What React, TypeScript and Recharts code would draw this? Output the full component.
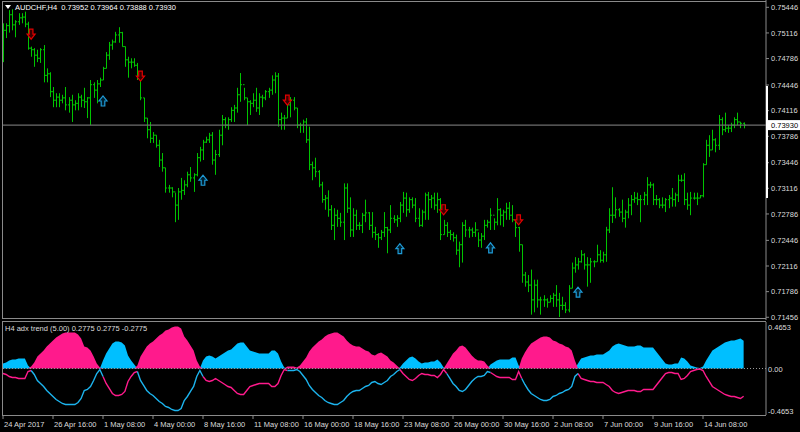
import React from "react";
import { ComposedChart, Bar, Scatter, Area, Line, XAxis, YAxis, ReferenceLine } from "recharts";

// AUDCHF H4 bars, 24 Apr 2017 00:00 onwards
const highs = [
  0.7524, 0.7524, 0.7541, 0.7542, 0.7528, 0.7537, 0.7537, 0.7539, 0.7526, 0.7494,
  0.7492, 0.749, 0.7492, 0.7496, 0.7466, 0.7461, 0.7442, 0.7434, 0.7434, 0.7432,
  0.7442, 0.7429, 0.7432, 0.7425, 0.7434, 0.7432, 0.7441, 0.7429, 0.7451, 0.7448,
  0.7451, 0.7454, 0.7468, 0.7487, 0.75, 0.7503, 0.7513, 0.7519, 0.7513, 0.7494,
  0.7481, 0.7479, 0.7479, 0.7473, 0.7454, 0.7428, 0.7402, 0.7397, 0.7384, 0.738,
  0.7374, 0.7357, 0.7338, 0.7316, 0.7313, 0.7306, 0.7312, 0.7325, 0.7322, 0.7333,
  0.7339, 0.7331, 0.7357, 0.7365, 0.7374, 0.7378, 0.7383, 0.7384, 0.7361, 0.7387,
  0.7406, 0.7403, 0.7403, 0.7416, 0.7419, 0.7441, 0.746, 0.7441, 0.7428, 0.7425,
  0.7434, 0.7441, 0.7434, 0.7432, 0.7438, 0.7441, 0.7457, 0.7461, 0.746, 0.7409,
  0.7406, 0.7425, 0.7429, 0.7429, 0.7415, 0.7396, 0.74, 0.7402, 0.7391, 0.7346,
  0.7351, 0.7335, 0.732, 0.7303, 0.7309, 0.729, 0.7286, 0.7284, 0.728, 0.7318,
  0.7318, 0.73, 0.7286, 0.7284, 0.7268, 0.728, 0.7297, 0.7281, 0.7281, 0.7262,
  0.7254, 0.7258, 0.7281, 0.7262, 0.729, 0.7277, 0.7277, 0.7294, 0.7307, 0.7306,
  0.73, 0.73, 0.7299, 0.7286, 0.7284, 0.7306, 0.7307, 0.7303, 0.7306, 0.7306,
  0.7299, 0.7271, 0.7268, 0.7258, 0.7255, 0.7252, 0.7243, 0.7268, 0.7271, 0.7262,
  0.7261, 0.7268, 0.7255, 0.7254, 0.7271, 0.7271, 0.7286, 0.7273, 0.7299, 0.7286,
  0.7284, 0.7293, 0.7294, 0.729, 0.7271, 0.7262, 0.7239, 0.7204, 0.72, 0.7207,
  0.7194, 0.7194, 0.7172, 0.7174, 0.717, 0.7174, 0.7177, 0.7187, 0.7177, 0.7172,
  0.7165, 0.7187, 0.7216, 0.7223, 0.7222, 0.7232, 0.7228, 0.7223, 0.7222, 0.7219,
  0.7239, 0.7232, 0.723, 0.7262, 0.7286, 0.7313, 0.73, 0.7286, 0.7297, 0.7284,
  0.7299, 0.7303, 0.7307, 0.7306, 0.7303, 0.7307, 0.7326, 0.732, 0.7318, 0.7303,
  0.7299, 0.73, 0.7299, 0.7303, 0.7312, 0.7306, 0.7329, 0.7329, 0.7331, 0.7306,
  0.7307, 0.7306, 0.7306, 0.7303, 0.7344, 0.7374, 0.738, 0.7387, 0.7376, 0.7406,
  0.7403, 0.7409, 0.7393, 0.7396, 0.7403, 0.7409, 0.7397, 0.73964,
];
const lows = [
  0.7474, 0.7505, 0.7512, 0.7515, 0.7506, 0.7522, 0.7524, 0.7519, 0.749, 0.7481,
  0.7468, 0.7474, 0.7473, 0.7448, 0.7448, 0.7429, 0.7416, 0.7416, 0.7416, 0.7421,
  0.7412, 0.7409, 0.7397, 0.7412, 0.7412, 0.7416, 0.7415, 0.7402, 0.7393, 0.7428,
  0.7421, 0.7442, 0.7451, 0.7466, 0.7477, 0.749, 0.7499, 0.7499, 0.7494, 0.7468,
  0.7454, 0.7466, 0.7468, 0.7451, 0.7425, 0.7397, 0.7376, 0.737, 0.737, 0.7364,
  0.7339, 0.7333, 0.7306, 0.7306, 0.73, 0.7268, 0.7271, 0.7297, 0.7303, 0.7313,
  0.732, 0.7307, 0.7327, 0.7346, 0.7348, 0.737, 0.737, 0.7342, 0.7329, 0.7352,
  0.7367, 0.7389, 0.7387, 0.7397, 0.7397, 0.7409, 0.7423, 0.7425, 0.7393, 0.7406,
  0.7416, 0.741, 0.7406, 0.7416, 0.7425, 0.7428, 0.7432, 0.7434, 0.7391, 0.7387,
  0.7387, 0.7402, 0.7403, 0.7412, 0.7389, 0.7383, 0.7383, 0.737, 0.7335, 0.7322,
  0.7326, 0.7313, 0.7293, 0.7284, 0.7275, 0.7258, 0.7245, 0.7262, 0.7262, 0.7245,
  0.728, 0.7249, 0.7249, 0.7258, 0.7258, 0.7254, 0.7268, 0.7258, 0.7248, 0.7245,
  0.7235, 0.7245, 0.7249, 0.7228, 0.7254, 0.7267, 0.7262, 0.7268, 0.728, 0.7275,
  0.728, 0.7286, 0.7268, 0.7262, 0.7262, 0.7271, 0.7271, 0.7286, 0.7284, 0.728,
  0.7245, 0.7252, 0.7249, 0.7245, 0.7243, 0.7226, 0.721, 0.7216, 0.7249, 0.7248,
  0.7249, 0.7249, 0.7236, 0.7235, 0.7245, 0.7261, 0.7258, 0.7258, 0.7264, 0.7264,
  0.7262, 0.7271, 0.7271, 0.7268, 0.7249, 0.723, 0.719, 0.7185, 0.7178, 0.7149,
  0.7152, 0.7158, 0.7149, 0.7159, 0.7158, 0.7165, 0.7159, 0.7159, 0.7146, 0.7155,
  0.7151, 0.7152, 0.7183, 0.7203, 0.7207, 0.7216, 0.7207, 0.7185, 0.719, 0.721,
  0.7217, 0.7216, 0.7216, 0.7217, 0.7254, 0.7267, 0.7273, 0.7275, 0.7268, 0.7261,
  0.7273, 0.7277, 0.7293, 0.729, 0.7268, 0.729, 0.729, 0.7312, 0.729, 0.729,
  0.7286, 0.7286, 0.7281, 0.7286, 0.7288, 0.7288, 0.7294, 0.732, 0.729, 0.7284,
  0.7277, 0.7297, 0.729, 0.7299, 0.73, 0.7342, 0.7352, 0.7361, 0.7358, 0.7361,
  0.738, 0.7384, 0.7383, 0.7384, 0.7389, 0.7393, 0.7389, 0.73888,
];
const closes = [
  0.7515, 0.7521, 0.7535, 0.7522, 0.7526, 0.7531, 0.7532, 0.7523, 0.7492, 0.749,
  0.7483, 0.7479, 0.749, 0.7457, 0.7459, 0.7436, 0.7425, 0.7429, 0.7425, 0.7428,
  0.7419, 0.7425, 0.7419, 0.7421, 0.7429, 0.7425, 0.7423, 0.7428, 0.7445, 0.7438,
  0.7446, 0.7451, 0.7466, 0.7483, 0.7496, 0.75, 0.7509, 0.7512, 0.7494, 0.7477,
  0.7474, 0.7474, 0.747, 0.7454, 0.7428, 0.7402, 0.7387, 0.7376, 0.738, 0.7367,
  0.7348, 0.7338, 0.7312, 0.7312, 0.7307, 0.729, 0.7307, 0.7309, 0.7316, 0.7329,
  0.7325, 0.7329, 0.7351, 0.7361, 0.7371, 0.7374, 0.738, 0.7348, 0.7355, 0.738,
  0.74, 0.7393, 0.74, 0.7412, 0.7415, 0.7432, 0.7445, 0.7428, 0.7423, 0.7421,
  0.7425, 0.7415, 0.7429, 0.7428, 0.7436, 0.7438, 0.7451, 0.7456, 0.74, 0.7402,
  0.7402, 0.7419, 0.7425, 0.7415, 0.7393, 0.7393, 0.7397, 0.7374, 0.7342, 0.7338,
  0.7333, 0.7316, 0.7297, 0.7299, 0.7284, 0.7264, 0.7277, 0.7273, 0.7268, 0.7312,
  0.7286, 0.7258, 0.7277, 0.7264, 0.7264, 0.7277, 0.728, 0.7264, 0.7255, 0.7252,
  0.7248, 0.7255, 0.7261, 0.7258, 0.7273, 0.7271, 0.7273, 0.729, 0.7299, 0.7284,
  0.7297, 0.729, 0.7273, 0.7264, 0.7281, 0.7303, 0.7297, 0.7299, 0.729, 0.7297,
  0.7252, 0.7264, 0.7255, 0.7252, 0.7248, 0.7232, 0.7239, 0.7264, 0.7258, 0.7258,
  0.7255, 0.7258, 0.7245, 0.725, 0.7264, 0.7268, 0.7277, 0.7268, 0.7284, 0.7277,
  0.7281, 0.7286, 0.7277, 0.7271, 0.7261, 0.7239, 0.72, 0.7191, 0.7187, 0.7168,
  0.7187, 0.7168, 0.7168, 0.7168, 0.7165, 0.717, 0.7174, 0.7168, 0.7161, 0.7161,
  0.7155, 0.7183, 0.7209, 0.7213, 0.7217, 0.7226, 0.7213, 0.7213, 0.7217, 0.7217,
  0.7226, 0.7219, 0.7226, 0.7258, 0.7277, 0.7277, 0.7284, 0.7281, 0.7273, 0.7281,
  0.729, 0.7297, 0.7299, 0.7297, 0.7297, 0.7303, 0.7316, 0.7316, 0.7297, 0.7297,
  0.729, 0.729, 0.7297, 0.7299, 0.7297, 0.7303, 0.7322, 0.7322, 0.7297, 0.729,
  0.7299, 0.7299, 0.7299, 0.7302, 0.7342, 0.7367, 0.7361, 0.7374, 0.7367, 0.74,
  0.7387, 0.7389, 0.7389, 0.7393, 0.74, 0.7397, 0.73952, 0.7393,
];
const firstOpen = 0.75;

// adx trend: + bullish (blue), - bearish (pink)
const adxTrend = [
  0.05, 0.06, 0.08, 0.09, 0.09, 0.1, 0.1, 0.1, 0.03, -0.02,
  -0.06, -0.12, -0.15, -0.18, -0.22, -0.25, -0.28, -0.31, -0.33, -0.35,
  -0.36, -0.36, -0.36, -0.36, -0.34, -0.3, -0.22, -0.21, -0.18, -0.12,
  -0.05, -0.01, 0.08, 0.15, 0.2, 0.25, 0.27, 0.27, 0.26, 0.23,
  0.13, 0.08, 0.04, -0.03, -0.12, -0.17, -0.22, -0.25, -0.27, -0.3,
  -0.33, -0.35, -0.38, -0.39, -0.41, -0.42, -0.42, -0.4, -0.32, -0.28,
  -0.23, -0.18, -0.08, -0.02, 0.08, 0.12, 0.13, 0.12, 0.1, 0.12,
  0.14, 0.16, 0.18, 0.19, 0.22, 0.25, 0.26, 0.26, 0.22, 0.18,
  0.17, 0.16, 0.15, 0.15, 0.15, 0.15, 0.18, 0.18, 0.15, 0.07,
  0.01, -0.02, -0.02, -0.02, -0.01, -0.03, -0.07, -0.11, -0.17, -0.21,
  -0.24, -0.27, -0.29, -0.32, -0.34, -0.35, -0.36, -0.36, -0.34, -0.32,
  -0.28, -0.25, -0.23, -0.22, -0.22, -0.2, -0.18, -0.17, -0.14, -0.13,
  -0.15, -0.16, -0.14, -0.12, -0.08, -0.06, -0.03, 0.01, 0.05, 0.08,
  0.11, 0.12, 0.1, 0.07, 0.05, 0.06, 0.06, 0.07, 0.07, 0.09,
  0.06, 0.01, -0.05, -0.1, -0.15, -0.18, -0.22, -0.23, -0.21, -0.17,
  -0.13, -0.1, -0.08, -0.08, -0.07, -0.03, 0.04, 0.06, 0.08, 0.09,
  0.09, 0.09, 0.09, 0.11, 0.11, 0.03, -0.1, -0.16, -0.21, -0.25,
  -0.27, -0.29, -0.31, -0.32, -0.32, -0.31, -0.28, -0.27, -0.25, -0.24,
  -0.22, -0.21, -0.18, -0.08, 0.05, 0.1, 0.11, 0.12, 0.13, 0.13,
  0.14, 0.14, 0.14, 0.16, 0.18, 0.22, 0.24, 0.25, 0.24, 0.23,
  0.22, 0.22, 0.22, 0.23, 0.23, 0.21, 0.21, 0.21, 0.21, 0.17,
  0.13, 0.09, 0.05, 0.04, 0.04, 0.05, 0.05, 0.11, 0.1, 0.07,
  0.03, 0.02, 0.01, 0.005, 0.02, 0.08, 0.13, 0.18, 0.2, 0.22,
  0.24, 0.26, 0.27, 0.28, 0.28, 0.29, 0.3, 0.2775,
];

const sellBars = [9, 44, 91, 141, 165];
const sellPrices = [0.751, 0.7456, 0.7425, 0.7284, 0.7271];
const buyBars = [32, 64, 127, 156, 184];
const buyPrices = [0.7424, 0.7322, 0.7234, 0.7235, 0.7178];

const priceTicks = [
  0.75446, 0.75116, 0.74786, 0.74446, 0.74116, 0.73786, 0.73446,
  0.73116, 0.72786, 0.72446, 0.72116, 0.71786, 0.71456,
];
const lastPrice = 0.7393;
const adxLevels = [0.4653, 0, -0.4653];

const dateBars = [0, 16, 32, 48, 64, 80, 96, 112, 128, 144, 160, 176, 192, 208, 224];
const dateLabels = [
  "24 Apr 2017", "26 Apr 16:00", "1 May 08:00", "4 May 00:00", "8 May 16:00",
  "11 May 08:00", "16 May 00:00", "18 May 16:00", "23 May 08:00", "26 May 00:00",
  "30 May 16:00", "2 Jun 08:00", "7 Jun 00:00", "9 Jun 16:00", "14 Jun 08:00",
];

const FONT = "'Liberation Sans', Arial, sans-serif";
const GREEN = "#00c400";
const PINK = "#ff1a8c";
const BLUE = "#00bfff";
const FRAME = "#8a8a8a";
const TEXT = "#dcdcdc";
const X_DOMAIN: [number, number] = [-0.32, 244.16];

const rows = highs.map((h, i) => {
  const v = adxTrend[i];
  const prev = i > 0 ? adxTrend[i - 1] : v;
  return {
    i,
    high: h,
    low: lows[i],
    close: closes[i],
    open: i === 0 ? firstOpen : closes[i - 1],
    range: [lows[i], h],
    bullHist: v > 0 ? v : 0,
    bearHist: v < 0 ? -v : 0,
    // line under a blue block is pink, under a pink block blue
    pinkLine: v > 0 || prev > 0 ? -Math.abs(v) : null,
    blueLine: v < 0 || prev < 0 ? -Math.abs(v) : null,
  };
});

const sells = sellBars.map((b, k) => ({ i: b, p: sellPrices[k] }));
const buys = buyBars.map((b, k) => ({ i: b, p: buyPrices[k] }));

function OhlcBar(props: any) {
  const { x, y, width, height, payload } = props;
  if (!payload || !isFinite(y) || !isFinite(height)) return null;
  const top = Math.min(y, y + height);
  const bot = Math.max(y, y + height);
  const span = payload.high - payload.low || 1;
  const py = (v: number) => top + ((payload.high - v) / span) * (bot - top);
  const cx = Math.round(x + width / 2) + 0.5;
  return (
    <g stroke={GREEN} strokeWidth={1}>
      <line x1={cx} x2={cx} y1={top} y2={bot} />
      <line x1={cx - 1.5} x2={cx} y1={py(payload.open)} y2={py(payload.open)} />
      <line x1={cx} x2={cx + 1.5} y1={py(payload.close)} y2={py(payload.close)} />
    </g>
  );
}

function ArrowMark(props: any) {
  const { cx, cy, up, color, fill } = props;
  if (cx == null || cy == null) return null;
  const s = up ? -1 : 1;
  const pts = [
    [-1.8, -5], [1.8, -5], [1.8, 0], [4, 0], [0, 5], [-4, 0], [-1.8, 0],
  ]
    .map(([dx, dy]) => `${cx + dx},${cy + dy * s}`)
    .join(" ");
  return <polygon points={pts} fill={fill} stroke={color} strokeWidth={1.2} />;
}

function PriceTick(props: any) {
  const { x, y, payload } = props;
  return (
    <g>
      <line x1={x} x2={x + 3} y1={y} y2={y} stroke={FRAME} />
      <text x={x + 5} y={y} dy={2.7} fill={TEXT} fontSize={7.5} style={{ fontFamily: FONT }}>
        {payload.value.toFixed(5)}
      </text>
    </g>
  );
}

function AdxTick(props: any) {
  const { x, y, payload } = props;
  const v = payload.value;
  const dy = v > 0 ? 7.5 : v < 0 ? -1.5 : 3.2;
  return (
    <text x={x + 2} y={y} dy={dy} fill={TEXT} fontSize={7.5} style={{ fontFamily: FONT }}>
      {v === 0 ? "0.00" : v.toFixed(4)}
    </text>
  );
}

function DateTick(props: any) {
  const { x, y, payload } = props;
  const label = dateLabels[dateBars.indexOf(payload.value)];
  return (
    <g>
      <line x1={x} x2={x} y1={y + 1} y2={y + 4} stroke={FRAME} />
      <text x={x + 1} y={y + 12} fill={TEXT} fontSize={7.5} style={{ fontFamily: FONT }}>
        {label}
      </text>
    </g>
  );
}

function PriceBox(props: any) {
  const vb = props.viewBox || {};
  const yy = vb.y;
  const xx = vb.x + vb.width + 1;
  return (
    <g>
      <rect x={xx} y={yy - 5} width={34} height={10} fill="#ffffff" />
      <text x={xx + 4} y={yy} dy={2.7} fill="#000" fontSize={7.5} style={{ fontFamily: FONT }}>
        {lastPrice.toFixed(5)}
      </text>
    </g>
  );
}

export default function App() {
  return (
    <div
      style={{
        position: "absolute",
        left: 0,
        top: 0,
        width: 800,
        height: 432,
        background: "#000",
        overflow: "hidden",
        fontFamily: FONT,
      }}
    >
      <div style={{ position: "absolute", left: 0, top: 0 }}>
        <ComposedChart width={800} height={326} data={rows} margin={{ top: 0, right: 0, left: 2, bottom: 6 }}>
          <XAxis type="number" dataKey="i" domain={X_DOMAIN} hide allowDataOverflow />
          <YAxis
            orientation="right"
            width={34}
            domain={[0.71421, 0.7554]}
            allowDataOverflow
            ticks={priceTicks}
            interval={0}
            tick={<PriceTick />}
            tickLine={false}
            tickSize={0}
            tickMargin={0}
            axisLine={{ stroke: FRAME }}
          />
          <ReferenceLine y={lastPrice} stroke="#6e6e6e" strokeWidth={1.2} label={<PriceBox />} />
          <Bar dataKey="range" barSize={3} shape={<OhlcBar />} isAnimationActive={false} />
          <Scatter
            data={sells}
            dataKey="p"
            isAnimationActive={false}
            shape={(p: any) => <ArrowMark {...p} color="#e00000" fill="#3a0000" />}
          />
          <Scatter
            data={buys}
            dataKey="p"
            isAnimationActive={false}
            shape={(p: any) => <ArrowMark {...p} up color="#1e9ad6" fill="#00202e" />}
          />
        </ComposedChart>
      </div>

      <div style={{ position: "absolute", left: 0, top: 320 }}>
        <ComposedChart width={800} height={112} data={rows} margin={{ top: 2, right: 0, left: 2, bottom: 0 }}>
          <XAxis
            type="number"
            dataKey="i"
            domain={X_DOMAIN}
            allowDataOverflow
            ticks={dateBars}
            interval={0}
            height={17}
            tick={<DateTick />}
            tickLine={false}
            tickSize={0}
            tickMargin={0}
            axisLine={false}
          />
          <YAxis
            orientation="right"
            width={34}
            domain={[-0.4653, 0.4653]}
            allowDataOverflow
            ticks={adxLevels}
            interval={0}
            tick={<AdxTick />}
            tickLine={false}
            tickSize={0}
            tickMargin={0}
            axisLine={{ stroke: FRAME }}
          />
          <ReferenceLine y={0} stroke="#9a9a9a" strokeDasharray="1 2" />
          <Area type="linear" dataKey="bullHist" baseValue={0} stroke="none" fill={BLUE} fillOpacity={1} isAnimationActive={false} />
          <Area type="linear" dataKey="bearHist" baseValue={0} stroke="none" fill={PINK} fillOpacity={1} isAnimationActive={false} />
          <Line type="linear" dataKey="pinkLine" stroke={PINK} strokeWidth={1.4} dot={false} isAnimationActive={false} />
          <Line type="linear" dataKey="blueLine" stroke="#1cb4ee" strokeWidth={1.4} dot={false} isAnimationActive={false} />
        </ComposedChart>
      </div>

      {/* panel frames */}
      <div style={{ position: "absolute", left: 2, top: 1, width: 764, height: 318, borderTop: `1px solid ${FRAME}`, borderLeft: `1px solid ${FRAME}`, borderBottom: `1px solid ${FRAME}`, boxSizing: "border-box", pointerEvents: "none" }} />
      <div style={{ position: "absolute", left: 2, top: 321, width: 764, height: 95, borderTop: `1px solid ${FRAME}`, borderLeft: `1px solid ${FRAME}`, borderBottom: `1px solid ${FRAME}`, boxSizing: "border-box", pointerEvents: "none" }} />
      <div style={{ position: "absolute", left: 766, top: 86, width: 2, height: 112, background: "#ffffff" }} />

      {/* titles */}
      <svg style={{ position: "absolute", left: 0, top: 0 }} width={14} height={14}>
        <polygon points="5,5 11,5 8,9" fill="#ffffff" />
      </svg>
      <div style={{ position: "absolute", left: 15, top: 2, fontSize: 7.5, lineHeight: "11px", color: "#ffffff", whiteSpace: "pre" }}>
        {"AUDCHF,H4  0.73952 0.73964 0.73888 0.73930"}
      </div>
      <div style={{ position: "absolute", left: 5, top: 323, fontSize: 7.5, lineHeight: "11px", color: TEXT, whiteSpace: "pre" }}>
        {"H4 adx trend (5.00) 0.2775 0.2775 -0.2775"}
      </div>
    </div>
  );
}
